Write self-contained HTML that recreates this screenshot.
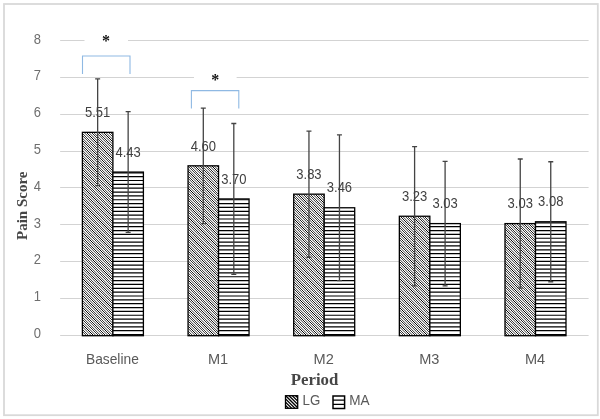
<!DOCTYPE html>
<html><head><meta charset="utf-8"><title>Pain Score by Period</title>
<style>
html,body{margin:0;padding:0;background:#fff;}
body{width:600px;height:419px;overflow:hidden;}
svg{display:block;}
text{font-family:"Liberation Sans",sans-serif;}
.ax{font-size:13.5px;fill:#595959;}
.tk{fill:#6e6e6e;}
.dl{font-size:14px;fill:#404040;}
.tt{font-family:"Liberation Serif",serif;font-weight:bold;fill:#464646;}
</style></head><body>
<svg width="600" height="419" viewBox="0 0 600 419">
<defs>
<filter id="ct" x="0" y="0" width="1" height="1" color-interpolation-filters="sRGB"><feComponentTransfer><feFuncR type="linear" slope="1.5" intercept="-0.25"/><feFuncG type="linear" slope="1.5" intercept="-0.25"/><feFuncB type="linear" slope="1.5" intercept="-0.25"/></feComponentTransfer></filter>
</defs>
<rect width="600" height="419" fill="#fff"/>
<rect x="4" y="4" width="593.8" height="411.2" fill="#fff" stroke="#d9d9d9" stroke-width="1.8"/>

<line x1="60.15" x2="588.6" y1="335.5" y2="335.5" stroke="#d3d3d3" stroke-width="1"/>
<text class="ax tk" transform="translate(37.3 337.90) scale(0.9 1)" text-anchor="middle" style="font-size:14.4px">0</text>
<line x1="60.15" x2="588.6" y1="298.5" y2="298.5" stroke="#d3d3d3" stroke-width="1"/>
<text class="ax tk" transform="translate(37.3 301.10) scale(0.9 1)" text-anchor="middle" style="font-size:14.4px">1</text>
<line x1="60.15" x2="588.6" y1="261.5" y2="261.5" stroke="#d3d3d3" stroke-width="1"/>
<text class="ax tk" transform="translate(37.3 264.30) scale(0.9 1)" text-anchor="middle" style="font-size:14.4px">2</text>
<line x1="60.15" x2="588.6" y1="224.5" y2="224.5" stroke="#d3d3d3" stroke-width="1"/>
<text class="ax tk" transform="translate(37.3 227.50) scale(0.9 1)" text-anchor="middle" style="font-size:14.4px">3</text>
<line x1="60.15" x2="588.6" y1="187.5" y2="187.5" stroke="#d3d3d3" stroke-width="1"/>
<text class="ax tk" transform="translate(37.3 190.70) scale(0.9 1)" text-anchor="middle" style="font-size:14.4px">4</text>
<line x1="60.15" x2="588.6" y1="151.5" y2="151.5" stroke="#d3d3d3" stroke-width="1"/>
<text class="ax tk" transform="translate(37.3 153.90) scale(0.9 1)" text-anchor="middle" style="font-size:14.4px">5</text>
<line x1="60.15" x2="588.6" y1="114.5" y2="114.5" stroke="#d3d3d3" stroke-width="1"/>
<text class="ax tk" transform="translate(37.3 117.10) scale(0.9 1)" text-anchor="middle" style="font-size:14.4px">6</text>
<line x1="60.15" x2="588.6" y1="77.5" y2="77.5" stroke="#d3d3d3" stroke-width="1"/>
<text class="ax tk" transform="translate(37.3 80.30) scale(0.9 1)" text-anchor="middle" style="font-size:14.4px">7</text>
<line x1="60.15" x2="588.6" y1="40.5" y2="40.5" stroke="#d3d3d3" stroke-width="1"/>
<text class="ax tk" transform="translate(37.3 43.50) scale(0.9 1)" text-anchor="middle" style="font-size:14.4px">8</text>
<rect x="84.5" y="30" width="43.5" height="18" fill="#fff"/>
<rect x="194" y="68" width="42.6" height="18" fill="#fff"/>
<text id="a1" x="106" y="45.7" text-anchor="middle" style="font-family:'Liberation Serif',serif;font-size:16px;fill:#111;font-weight:bold">*</text>
<text id="a2" x="215.2" y="85" text-anchor="middle" style="font-family:'Liberation Serif',serif;font-size:16px;fill:#111;font-weight:bold">*</text>
<path d="M82.5 74V56H130V74" fill="none" stroke="#8fb9e3" stroke-width="1.1"/>
<path d="M191.4 108.6V90.6H238.8V108.6" fill="none" stroke="#8fb9e3" stroke-width="1.1"/>
<clipPath id="c1"><rect x="82.40" y="132.33" width="30.50" height="203.37"/></clipPath>
<g filter="url(#ct)"><rect x="82.40" y="132.33" width="30.50" height="203.37" fill="#fff"/>
<path clip-path="url(#c1)" d="M-122.77 131.33l205.37 205.37M-120.35 131.33l205.37 205.37M-117.93 131.33l205.37 205.37M-115.51 131.33l205.37 205.37M-113.09 131.33l205.37 205.37M-110.67 131.33l205.37 205.37M-108.25 131.33l205.37 205.37M-105.83 131.33l205.37 205.37M-103.41 131.33l205.37 205.37M-100.99 131.33l205.37 205.37M-98.57 131.33l205.37 205.37M-96.15 131.33l205.37 205.37M-93.73 131.33l205.37 205.37M-91.31 131.33l205.37 205.37M-88.89 131.33l205.37 205.37M-86.47 131.33l205.37 205.37M-84.05 131.33l205.37 205.37M-81.63 131.33l205.37 205.37M-79.21 131.33l205.37 205.37M-76.79 131.33l205.37 205.37M-74.37 131.33l205.37 205.37M-71.95 131.33l205.37 205.37M-69.53 131.33l205.37 205.37M-67.11 131.33l205.37 205.37M-64.69 131.33l205.37 205.37M-62.27 131.33l205.37 205.37M-59.85 131.33l205.37 205.37M-57.43 131.33l205.37 205.37M-55.01 131.33l205.37 205.37M-52.59 131.33l205.37 205.37M-50.17 131.33l205.37 205.37M-47.75 131.33l205.37 205.37M-45.33 131.33l205.37 205.37M-42.91 131.33l205.37 205.37M-40.49 131.33l205.37 205.37M-38.07 131.33l205.37 205.37M-35.65 131.33l205.37 205.37M-33.23 131.33l205.37 205.37M-30.81 131.33l205.37 205.37M-28.39 131.33l205.37 205.37M-25.97 131.33l205.37 205.37M-23.55 131.33l205.37 205.37M-21.13 131.33l205.37 205.37M-18.71 131.33l205.37 205.37M-16.29 131.33l205.37 205.37M-13.87 131.33l205.37 205.37M-11.45 131.33l205.37 205.37M-9.03 131.33l205.37 205.37M-6.61 131.33l205.37 205.37M-4.19 131.33l205.37 205.37M-1.77 131.33l205.37 205.37M0.65 131.33l205.37 205.37M3.07 131.33l205.37 205.37M5.49 131.33l205.37 205.37M7.91 131.33l205.37 205.37M10.33 131.33l205.37 205.37M12.75 131.33l205.37 205.37M15.17 131.33l205.37 205.37M17.59 131.33l205.37 205.37M20.01 131.33l205.37 205.37M22.43 131.33l205.37 205.37M24.85 131.33l205.37 205.37M27.27 131.33l205.37 205.37M29.69 131.33l205.37 205.37M32.11 131.33l205.37 205.37M34.53 131.33l205.37 205.37M36.95 131.33l205.37 205.37M39.37 131.33l205.37 205.37M41.79 131.33l205.37 205.37M44.21 131.33l205.37 205.37M46.63 131.33l205.37 205.37M49.05 131.33l205.37 205.37M51.47 131.33l205.37 205.37M53.89 131.33l205.37 205.37M56.31 131.33l205.37 205.37M58.73 131.33l205.37 205.37M61.15 131.33l205.37 205.37M63.57 131.33l205.37 205.37M65.99 131.33l205.37 205.37M68.41 131.33l205.37 205.37M70.83 131.33l205.37 205.37M73.25 131.33l205.37 205.37M75.67 131.33l205.37 205.37M78.09 131.33l205.37 205.37M80.51 131.33l205.37 205.37M82.93 131.33l205.37 205.37M85.35 131.33l205.37 205.37M87.77 131.33l205.37 205.37M90.19 131.33l205.37 205.37M92.61 131.33l205.37 205.37M95.03 131.33l205.37 205.37M97.45 131.33l205.37 205.37M99.87 131.33l205.37 205.37M102.29 131.33l205.37 205.37M104.71 131.33l205.37 205.37M107.13 131.33l205.37 205.37M109.55 131.33l205.37 205.37" stroke="#000" stroke-width="0.85" fill="none"/></g>
<rect x="82.40" y="132.33" width="30.50" height="203.37" fill="none" stroke="#000" stroke-width="1.3"/>
<rect x="112.90" y="172.08" width="30.50" height="163.62" fill="#fff"/>
<path d="M112.90 172.80h30.50M112.90 176.65h30.50M112.90 180.50h30.50M112.90 184.35h30.50M112.90 188.20h30.50M112.90 192.05h30.50M112.90 195.90h30.50M112.90 199.75h30.50M112.90 203.60h30.50M112.90 207.45h30.50M112.90 211.30h30.50M112.90 215.15h30.50M112.90 219.00h30.50M112.90 222.85h30.50M112.90 226.70h30.50M112.90 230.55h30.50M112.90 234.40h30.50M112.90 238.25h30.50M112.90 242.10h30.50M112.90 245.95h30.50M112.90 249.80h30.50M112.90 253.65h30.50M112.90 257.50h30.50M112.90 261.35h30.50M112.90 265.20h30.50M112.90 269.05h30.50M112.90 272.90h30.50M112.90 276.75h30.50M112.90 280.60h30.50M112.90 284.45h30.50M112.90 288.30h30.50M112.90 292.15h30.50M112.90 296.00h30.50M112.90 299.85h30.50M112.90 303.70h30.50M112.90 307.55h30.50M112.90 311.40h30.50M112.90 315.25h30.50M112.90 319.10h30.50M112.90 322.95h30.50M112.90 326.80h30.50M112.90 330.65h30.50M112.90 334.50h30.50" stroke="#000" stroke-width="1.2" fill="none"/>
<rect x="112.90" y="172.08" width="30.50" height="163.62" fill="none" stroke="#000" stroke-width="1.3"/>
<clipPath id="c2"><rect x="188.05" y="165.82" width="30.50" height="169.88"/></clipPath>
<g filter="url(#ct)"><rect x="188.05" y="165.82" width="30.50" height="169.88" fill="#fff"/>
<path clip-path="url(#c2)" d="M14.78 164.82l171.88 171.88M17.20 164.82l171.88 171.88M19.62 164.82l171.88 171.88M22.04 164.82l171.88 171.88M24.46 164.82l171.88 171.88M26.88 164.82l171.88 171.88M29.30 164.82l171.88 171.88M31.72 164.82l171.88 171.88M34.14 164.82l171.88 171.88M36.56 164.82l171.88 171.88M38.98 164.82l171.88 171.88M41.40 164.82l171.88 171.88M43.82 164.82l171.88 171.88M46.24 164.82l171.88 171.88M48.66 164.82l171.88 171.88M51.08 164.82l171.88 171.88M53.50 164.82l171.88 171.88M55.92 164.82l171.88 171.88M58.34 164.82l171.88 171.88M60.76 164.82l171.88 171.88M63.18 164.82l171.88 171.88M65.60 164.82l171.88 171.88M68.02 164.82l171.88 171.88M70.44 164.82l171.88 171.88M72.86 164.82l171.88 171.88M75.28 164.82l171.88 171.88M77.70 164.82l171.88 171.88M80.12 164.82l171.88 171.88M82.54 164.82l171.88 171.88M84.96 164.82l171.88 171.88M87.38 164.82l171.88 171.88M89.80 164.82l171.88 171.88M92.22 164.82l171.88 171.88M94.64 164.82l171.88 171.88M97.06 164.82l171.88 171.88M99.48 164.82l171.88 171.88M101.90 164.82l171.88 171.88M104.32 164.82l171.88 171.88M106.74 164.82l171.88 171.88M109.16 164.82l171.88 171.88M111.58 164.82l171.88 171.88M114.00 164.82l171.88 171.88M116.42 164.82l171.88 171.88M118.84 164.82l171.88 171.88M121.26 164.82l171.88 171.88M123.68 164.82l171.88 171.88M126.10 164.82l171.88 171.88M128.52 164.82l171.88 171.88M130.94 164.82l171.88 171.88M133.36 164.82l171.88 171.88M135.78 164.82l171.88 171.88M138.20 164.82l171.88 171.88M140.62 164.82l171.88 171.88M143.04 164.82l171.88 171.88M145.46 164.82l171.88 171.88M147.88 164.82l171.88 171.88M150.30 164.82l171.88 171.88M152.72 164.82l171.88 171.88M155.14 164.82l171.88 171.88M157.56 164.82l171.88 171.88M159.98 164.82l171.88 171.88M162.40 164.82l171.88 171.88M164.82 164.82l171.88 171.88M167.24 164.82l171.88 171.88M169.66 164.82l171.88 171.88M172.08 164.82l171.88 171.88M174.50 164.82l171.88 171.88M176.92 164.82l171.88 171.88M179.34 164.82l171.88 171.88M181.76 164.82l171.88 171.88M184.18 164.82l171.88 171.88M186.60 164.82l171.88 171.88M189.02 164.82l171.88 171.88M191.44 164.82l171.88 171.88M193.86 164.82l171.88 171.88M196.28 164.82l171.88 171.88M198.70 164.82l171.88 171.88M201.12 164.82l171.88 171.88M203.54 164.82l171.88 171.88M205.96 164.82l171.88 171.88M208.38 164.82l171.88 171.88M210.80 164.82l171.88 171.88M213.22 164.82l171.88 171.88M215.64 164.82l171.88 171.88" stroke="#000" stroke-width="0.85" fill="none"/></g>
<rect x="188.05" y="165.82" width="30.50" height="169.88" fill="none" stroke="#000" stroke-width="1.3"/>
<rect x="218.55" y="198.94" width="30.50" height="136.76" fill="#fff"/>
<path d="M218.55 199.75h30.50M218.55 203.60h30.50M218.55 207.45h30.50M218.55 211.30h30.50M218.55 215.15h30.50M218.55 219.00h30.50M218.55 222.85h30.50M218.55 226.70h30.50M218.55 230.55h30.50M218.55 234.40h30.50M218.55 238.25h30.50M218.55 242.10h30.50M218.55 245.95h30.50M218.55 249.80h30.50M218.55 253.65h30.50M218.55 257.50h30.50M218.55 261.35h30.50M218.55 265.20h30.50M218.55 269.05h30.50M218.55 272.90h30.50M218.55 276.75h30.50M218.55 280.60h30.50M218.55 284.45h30.50M218.55 288.30h30.50M218.55 292.15h30.50M218.55 296.00h30.50M218.55 299.85h30.50M218.55 303.70h30.50M218.55 307.55h30.50M218.55 311.40h30.50M218.55 315.25h30.50M218.55 319.10h30.50M218.55 322.95h30.50M218.55 326.80h30.50M218.55 330.65h30.50M218.55 334.50h30.50" stroke="#000" stroke-width="1.2" fill="none"/>
<rect x="218.55" y="198.94" width="30.50" height="136.76" fill="none" stroke="#000" stroke-width="1.3"/>
<clipPath id="c3"><rect x="293.70" y="194.16" width="30.50" height="141.54"/></clipPath>
<g filter="url(#ct)"><rect x="293.70" y="194.16" width="30.50" height="141.54" fill="#fff"/>
<path clip-path="url(#c3)" d="M149.60 193.16l143.54 143.54M152.02 193.16l143.54 143.54M154.44 193.16l143.54 143.54M156.86 193.16l143.54 143.54M159.28 193.16l143.54 143.54M161.70 193.16l143.54 143.54M164.12 193.16l143.54 143.54M166.54 193.16l143.54 143.54M168.96 193.16l143.54 143.54M171.38 193.16l143.54 143.54M173.80 193.16l143.54 143.54M176.22 193.16l143.54 143.54M178.64 193.16l143.54 143.54M181.06 193.16l143.54 143.54M183.48 193.16l143.54 143.54M185.90 193.16l143.54 143.54M188.32 193.16l143.54 143.54M190.74 193.16l143.54 143.54M193.16 193.16l143.54 143.54M195.58 193.16l143.54 143.54M198.00 193.16l143.54 143.54M200.42 193.16l143.54 143.54M202.84 193.16l143.54 143.54M205.26 193.16l143.54 143.54M207.68 193.16l143.54 143.54M210.10 193.16l143.54 143.54M212.52 193.16l143.54 143.54M214.94 193.16l143.54 143.54M217.36 193.16l143.54 143.54M219.78 193.16l143.54 143.54M222.20 193.16l143.54 143.54M224.62 193.16l143.54 143.54M227.04 193.16l143.54 143.54M229.46 193.16l143.54 143.54M231.88 193.16l143.54 143.54M234.30 193.16l143.54 143.54M236.72 193.16l143.54 143.54M239.14 193.16l143.54 143.54M241.56 193.16l143.54 143.54M243.98 193.16l143.54 143.54M246.40 193.16l143.54 143.54M248.82 193.16l143.54 143.54M251.24 193.16l143.54 143.54M253.66 193.16l143.54 143.54M256.08 193.16l143.54 143.54M258.50 193.16l143.54 143.54M260.92 193.16l143.54 143.54M263.34 193.16l143.54 143.54M265.76 193.16l143.54 143.54M268.18 193.16l143.54 143.54M270.60 193.16l143.54 143.54M273.02 193.16l143.54 143.54M275.44 193.16l143.54 143.54M277.86 193.16l143.54 143.54M280.28 193.16l143.54 143.54M282.70 193.16l143.54 143.54M285.12 193.16l143.54 143.54M287.54 193.16l143.54 143.54M289.96 193.16l143.54 143.54M292.38 193.16l143.54 143.54M294.80 193.16l143.54 143.54M297.22 193.16l143.54 143.54M299.64 193.16l143.54 143.54M302.06 193.16l143.54 143.54M304.48 193.16l143.54 143.54M306.90 193.16l143.54 143.54M309.32 193.16l143.54 143.54M311.74 193.16l143.54 143.54M314.16 193.16l143.54 143.54M316.58 193.16l143.54 143.54M319.00 193.16l143.54 143.54M321.42 193.16l143.54 143.54" stroke="#000" stroke-width="0.85" fill="none"/></g>
<rect x="293.70" y="194.16" width="30.50" height="141.54" fill="none" stroke="#000" stroke-width="1.3"/>
<rect x="324.20" y="207.77" width="30.50" height="127.93" fill="#fff"/>
<path d="M324.20 211.30h30.50M324.20 215.15h30.50M324.20 219.00h30.50M324.20 222.85h30.50M324.20 226.70h30.50M324.20 230.55h30.50M324.20 234.40h30.50M324.20 238.25h30.50M324.20 242.10h30.50M324.20 245.95h30.50M324.20 249.80h30.50M324.20 253.65h30.50M324.20 257.50h30.50M324.20 261.35h30.50M324.20 265.20h30.50M324.20 269.05h30.50M324.20 272.90h30.50M324.20 276.75h30.50M324.20 280.60h30.50M324.20 284.45h30.50M324.20 288.30h30.50M324.20 292.15h30.50M324.20 296.00h30.50M324.20 299.85h30.50M324.20 303.70h30.50M324.20 307.55h30.50M324.20 311.40h30.50M324.20 315.25h30.50M324.20 319.10h30.50M324.20 322.95h30.50M324.20 326.80h30.50M324.20 330.65h30.50M324.20 334.50h30.50" stroke="#000" stroke-width="1.2" fill="none"/>
<rect x="324.20" y="207.77" width="30.50" height="127.93" fill="none" stroke="#000" stroke-width="1.3"/>
<clipPath id="c4"><rect x="399.35" y="216.24" width="30.50" height="119.46"/></clipPath>
<g filter="url(#ct)"><rect x="399.35" y="216.24" width="30.50" height="119.46" fill="#fff"/>
<path clip-path="url(#c4)" d="M278.16 215.24l121.46 121.46M280.58 215.24l121.46 121.46M283.00 215.24l121.46 121.46M285.42 215.24l121.46 121.46M287.84 215.24l121.46 121.46M290.26 215.24l121.46 121.46M292.68 215.24l121.46 121.46M295.10 215.24l121.46 121.46M297.52 215.24l121.46 121.46M299.94 215.24l121.46 121.46M302.36 215.24l121.46 121.46M304.78 215.24l121.46 121.46M307.20 215.24l121.46 121.46M309.62 215.24l121.46 121.46M312.04 215.24l121.46 121.46M314.46 215.24l121.46 121.46M316.88 215.24l121.46 121.46M319.30 215.24l121.46 121.46M321.72 215.24l121.46 121.46M324.14 215.24l121.46 121.46M326.56 215.24l121.46 121.46M328.98 215.24l121.46 121.46M331.40 215.24l121.46 121.46M333.82 215.24l121.46 121.46M336.24 215.24l121.46 121.46M338.66 215.24l121.46 121.46M341.08 215.24l121.46 121.46M343.50 215.24l121.46 121.46M345.92 215.24l121.46 121.46M348.34 215.24l121.46 121.46M350.76 215.24l121.46 121.46M353.18 215.24l121.46 121.46M355.60 215.24l121.46 121.46M358.02 215.24l121.46 121.46M360.44 215.24l121.46 121.46M362.86 215.24l121.46 121.46M365.28 215.24l121.46 121.46M367.70 215.24l121.46 121.46M370.12 215.24l121.46 121.46M372.54 215.24l121.46 121.46M374.96 215.24l121.46 121.46M377.38 215.24l121.46 121.46M379.80 215.24l121.46 121.46M382.22 215.24l121.46 121.46M384.64 215.24l121.46 121.46M387.06 215.24l121.46 121.46M389.48 215.24l121.46 121.46M391.90 215.24l121.46 121.46M394.32 215.24l121.46 121.46M396.74 215.24l121.46 121.46M399.16 215.24l121.46 121.46M401.58 215.24l121.46 121.46M404.00 215.24l121.46 121.46M406.42 215.24l121.46 121.46M408.84 215.24l121.46 121.46M411.26 215.24l121.46 121.46M413.68 215.24l121.46 121.46M416.10 215.24l121.46 121.46M418.52 215.24l121.46 121.46M420.94 215.24l121.46 121.46M423.36 215.24l121.46 121.46M425.78 215.24l121.46 121.46M428.20 215.24l121.46 121.46" stroke="#000" stroke-width="0.85" fill="none"/></g>
<rect x="399.35" y="216.24" width="30.50" height="119.46" fill="none" stroke="#000" stroke-width="1.3"/>
<rect x="429.85" y="223.60" width="30.50" height="112.10" fill="#fff"/>
<path d="M429.85 226.70h30.50M429.85 230.55h30.50M429.85 234.40h30.50M429.85 238.25h30.50M429.85 242.10h30.50M429.85 245.95h30.50M429.85 249.80h30.50M429.85 253.65h30.50M429.85 257.50h30.50M429.85 261.35h30.50M429.85 265.20h30.50M429.85 269.05h30.50M429.85 272.90h30.50M429.85 276.75h30.50M429.85 280.60h30.50M429.85 284.45h30.50M429.85 288.30h30.50M429.85 292.15h30.50M429.85 296.00h30.50M429.85 299.85h30.50M429.85 303.70h30.50M429.85 307.55h30.50M429.85 311.40h30.50M429.85 315.25h30.50M429.85 319.10h30.50M429.85 322.95h30.50M429.85 326.80h30.50M429.85 330.65h30.50M429.85 334.50h30.50" stroke="#000" stroke-width="1.2" fill="none"/>
<rect x="429.85" y="223.60" width="30.50" height="112.10" fill="none" stroke="#000" stroke-width="1.3"/>
<clipPath id="c5"><rect x="505.00" y="223.60" width="30.50" height="112.10"/></clipPath>
<g filter="url(#ct)"><rect x="505.00" y="223.60" width="30.50" height="112.10" fill="#fff"/>
<path clip-path="url(#c5)" d="M389.58 222.60l114.10 114.10M392.00 222.60l114.10 114.10M394.42 222.60l114.10 114.10M396.84 222.60l114.10 114.10M399.26 222.60l114.10 114.10M401.68 222.60l114.10 114.10M404.10 222.60l114.10 114.10M406.52 222.60l114.10 114.10M408.94 222.60l114.10 114.10M411.36 222.60l114.10 114.10M413.78 222.60l114.10 114.10M416.20 222.60l114.10 114.10M418.62 222.60l114.10 114.10M421.04 222.60l114.10 114.10M423.46 222.60l114.10 114.10M425.88 222.60l114.10 114.10M428.30 222.60l114.10 114.10M430.72 222.60l114.10 114.10M433.14 222.60l114.10 114.10M435.56 222.60l114.10 114.10M437.98 222.60l114.10 114.10M440.40 222.60l114.10 114.10M442.82 222.60l114.10 114.10M445.24 222.60l114.10 114.10M447.66 222.60l114.10 114.10M450.08 222.60l114.10 114.10M452.50 222.60l114.10 114.10M454.92 222.60l114.10 114.10M457.34 222.60l114.10 114.10M459.76 222.60l114.10 114.10M462.18 222.60l114.10 114.10M464.60 222.60l114.10 114.10M467.02 222.60l114.10 114.10M469.44 222.60l114.10 114.10M471.86 222.60l114.10 114.10M474.28 222.60l114.10 114.10M476.70 222.60l114.10 114.10M479.12 222.60l114.10 114.10M481.54 222.60l114.10 114.10M483.96 222.60l114.10 114.10M486.38 222.60l114.10 114.10M488.80 222.60l114.10 114.10M491.22 222.60l114.10 114.10M493.64 222.60l114.10 114.10M496.06 222.60l114.10 114.10M498.48 222.60l114.10 114.10M500.90 222.60l114.10 114.10M503.32 222.60l114.10 114.10M505.74 222.60l114.10 114.10M508.16 222.60l114.10 114.10M510.58 222.60l114.10 114.10M513.00 222.60l114.10 114.10M515.42 222.60l114.10 114.10M517.84 222.60l114.10 114.10M520.26 222.60l114.10 114.10M522.68 222.60l114.10 114.10M525.10 222.60l114.10 114.10M527.52 222.60l114.10 114.10M529.94 222.60l114.10 114.10M532.36 222.60l114.10 114.10" stroke="#000" stroke-width="0.85" fill="none"/></g>
<rect x="505.00" y="223.60" width="30.50" height="112.10" fill="none" stroke="#000" stroke-width="1.3"/>
<rect x="535.50" y="221.76" width="30.50" height="113.94" fill="#fff"/>
<path d="M535.50 222.85h30.50M535.50 226.70h30.50M535.50 230.55h30.50M535.50 234.40h30.50M535.50 238.25h30.50M535.50 242.10h30.50M535.50 245.95h30.50M535.50 249.80h30.50M535.50 253.65h30.50M535.50 257.50h30.50M535.50 261.35h30.50M535.50 265.20h30.50M535.50 269.05h30.50M535.50 272.90h30.50M535.50 276.75h30.50M535.50 280.60h30.50M535.50 284.45h30.50M535.50 288.30h30.50M535.50 292.15h30.50M535.50 296.00h30.50M535.50 299.85h30.50M535.50 303.70h30.50M535.50 307.55h30.50M535.50 311.40h30.50M535.50 315.25h30.50M535.50 319.10h30.50M535.50 322.95h30.50M535.50 326.80h30.50M535.50 330.65h30.50M535.50 334.50h30.50" stroke="#000" stroke-width="1.2" fill="none"/>
<rect x="535.50" y="221.76" width="30.50" height="113.94" fill="none" stroke="#000" stroke-width="1.3"/>
<path d="M97.65 78.97V185.69M95.15 78.97h5M95.15 185.69h5" fill="none" stroke="#444" stroke-width="1.3"/>
<text class="dl" transform="translate(97.65 117.03) scale(0.93 1)" text-anchor="middle">5.51</text>
<path d="M128.15 111.72V232.43M125.65 111.72h5M125.65 232.43h5" fill="none" stroke="#444" stroke-width="1.3"/>
<text class="dl" transform="translate(128.15 156.78) scale(0.93 1)" text-anchor="middle">4.43</text>
<path d="M203.30 108.04V223.60M200.80 108.04h5M200.80 223.60h5" fill="none" stroke="#444" stroke-width="1.3"/>
<text class="dl" transform="translate(203.30 150.52) scale(0.93 1)" text-anchor="middle">4.60</text>
<path d="M233.80 123.50V274.38M231.30 123.50h5M231.30 274.38h5" fill="none" stroke="#444" stroke-width="1.3"/>
<text class="dl" transform="translate(233.80 183.64) scale(0.93 1)" text-anchor="middle">3.70</text>
<path d="M308.95 131.04V257.27M306.45 131.04h5M306.45 257.27h5" fill="none" stroke="#444" stroke-width="1.3"/>
<text class="dl" transform="translate(308.95 178.86) scale(0.93 1)" text-anchor="middle">3.83</text>
<path d="M339.45 134.91V280.64M336.95 134.91h5M336.95 280.64h5" fill="none" stroke="#444" stroke-width="1.3"/>
<text class="dl" transform="translate(339.45 192.47) scale(0.93 1)" text-anchor="middle">3.46</text>
<path d="M414.60 146.68V285.79M412.10 146.68h5M412.10 285.79h5" fill="none" stroke="#444" stroke-width="1.3"/>
<text class="dl" transform="translate(414.60 200.94) scale(0.93 1)" text-anchor="middle">3.23</text>
<path d="M445.10 161.40V285.79M442.60 161.40h5M442.60 285.79h5" fill="none" stroke="#444" stroke-width="1.3"/>
<text class="dl" transform="translate(445.10 208.30) scale(0.93 1)" text-anchor="middle">3.03</text>
<path d="M520.25 159.01V288.18M517.75 159.01h5M517.75 288.18h5" fill="none" stroke="#444" stroke-width="1.3"/>
<text class="dl" transform="translate(520.25 208.30) scale(0.93 1)" text-anchor="middle">3.03</text>
<path d="M550.75 161.77V281.74M548.25 161.77h5M548.25 281.74h5" fill="none" stroke="#444" stroke-width="1.3"/>
<text class="dl" transform="translate(550.75 206.46) scale(0.93 1)" text-anchor="middle">3.08</text>
<text class="ax" transform="translate(112.38 364.3) scale(0.985 1)" text-anchor="middle" style="font-size:14px">Baseline</text>
<text class="ax" transform="translate(218.03 364.3) scale(1.04 1)" text-anchor="middle" style="font-size:14px">M1</text>
<text class="ax" transform="translate(323.67 364.3) scale(1.04 1)" text-anchor="middle" style="font-size:14px">M2</text>
<text class="ax" transform="translate(429.32 364.3) scale(1.04 1)" text-anchor="middle" style="font-size:14px">M3</text>
<text class="ax" transform="translate(534.98 364.3) scale(1.04 1)" text-anchor="middle" style="font-size:14px">M4</text>
<text class="tt" x="314.6" y="384.8" text-anchor="middle" style="font-size:16.8px">Period</text>
<text class="tt" transform="translate(27.3 205.8) rotate(-90)" text-anchor="middle" style="font-size:15px">Pain Score</text>
<clipPath id="lgc"><rect x="285.5" y="395.7" width="12.2" height="12.6"/></clipPath>
<rect x="285.5" y="395.7" width="12.2" height="12.6" fill="#fff"/>
<path clip-path="url(#lgc)" d="M271.50 394.7l16 16M274.80 394.7l16 16M278.10 394.7l16 16M281.40 394.7l16 16M284.70 394.7l16 16M288.00 394.7l16 16M291.30 394.7l16 16M294.60 394.7l16 16M297.90 394.7l16 16" stroke="#000" stroke-width="1.3" fill="none"/>
<rect x="285.5" y="395.7" width="12.2" height="12.6" fill="none" stroke="#000" stroke-width="1.3"/>
<text class="ax" transform="translate(302.6 404.6) scale(0.95 1)" style="font-size:14px">LG</text>
<rect x="333" y="396" width="11.6" height="12.5" fill="#fff" stroke="#000" stroke-width="1.5"/>
<path d="M333 400.2H344.6M333 404.4H344.6" stroke="#000" stroke-width="1.3"/>
<text class="ax" transform="translate(349.3 404.6) scale(0.97 1)" style="font-size:14px">MA</text>
</svg></body></html>
